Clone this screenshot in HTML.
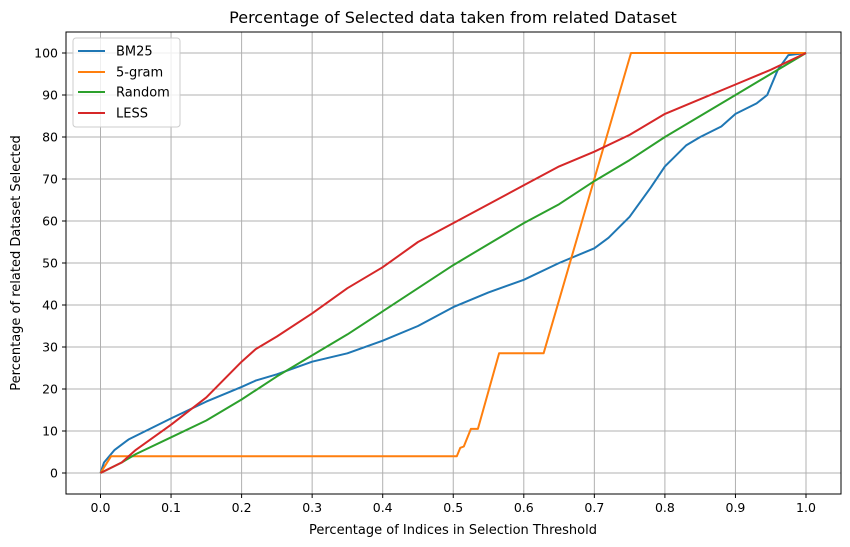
<!DOCTYPE html>
<html><head><meta charset="utf-8"><style>body{margin:0;background:#fff}svg{display:block;font-family:"DejaVu Sans","Liberation Sans",sans-serif}</style></head>
<body>
<svg id="chart" width="850" height="547" viewBox="0 0 850 547">
<rect width="850" height="547" fill="#fff"/>
<text x="453" y="23" text-anchor="middle" font-size="16">Percentage of Selected data taken from related Dataset</text>
<text x="453" y="534" text-anchor="middle" font-size="13">Percentage of Indices in Selection Threshold</text>
<text transform="translate(20,263) rotate(-90)" text-anchor="middle" font-size="13">Percentage of related Dataset Selected</text>
<g id="grid"></g><g id="series"></g><g id="ticks"></g>
<rect x="66" y="32" width="775" height="462" fill="none" stroke="#000" stroke-width="1"/>
<g>
<rect x="73" y="38" width="107" height="89" rx="3" fill="#fff" fill-opacity="0.8" stroke="#ccc"/>
<line x1="78" y1="51" x2="105" y2="51" stroke="#1f77b4" stroke-width="2"/><text x="116" y="55.5" font-size="13">BM25</text>
<line x1="78" y1="72" x2="105" y2="72" stroke="#ff7f0e" stroke-width="2"/><text x="116" y="76.5" font-size="13">5-gram</text>
<line x1="78" y1="92" x2="105" y2="92" stroke="#2ca02c" stroke-width="2"/><text x="116" y="96.5" font-size="13">Random</text>
<line x1="78" y1="113" x2="105" y2="113" stroke="#d62728" stroke-width="2"/><text x="116" y="117.5" font-size="13">LESS</text>
</g>
</svg>
<script>
const xTicks=[0,0.1,0.2,0.3,0.4,0.5,0.6,0.7,0.8,0.9,1.0];
const xTickLabels=["0.0","0.1","0.2","0.3","0.4","0.5","0.6","0.7","0.8","0.9","1.0"];
const yTicks=[0,10,20,30,40,50,60,70,80,90,100];
const bm25X=[0,0.005,0.02,0.04,0.07,0.1,0.15,0.2,0.22,0.25,0.3,0.35,0.4,0.45,0.5,0.55,0.6,0.65,0.7,0.72,0.75,0.78,0.8,0.83,0.85,0.88,0.9,0.93,0.945,0.96,0.975,1.0];
const bm25Y=[0,2.5,5.5,8,10.5,13,17,20.5,22,23.5,26.5,28.5,31.5,35,39.5,43,46,50,53.5,56,61,68,73,78,80,82.5,85.5,88,90,96,99.5,100];
const gramX=[0,0.015,0.505,0.51,0.515,0.525,0.535,0.565,0.628,0.752,1.0];
const gramY=[0,4,4,6,6.3,10.5,10.5,28.5,28.5,100,100];
const randX=[0,0.03,0.05,0.1,0.15,0.2,0.25,0.3,0.35,0.4,0.45,0.5,0.55,0.6,0.65,0.7,0.75,0.8,0.85,0.9,0.95,1.0];
const randY=[0,2.5,4.5,8.5,12.5,17.5,23,28,33,38.5,44,49.5,54.5,59.5,64,69.5,74.5,80,85,90,95,100];
const lessX=[0,0.03,0.05,0.1,0.15,0.2,0.22,0.25,0.3,0.35,0.4,0.45,0.5,0.55,0.6,0.65,0.7,0.75,0.8,0.85,0.9,0.95,1.0];
const lessY=[0,2.5,5.5,11.5,18,26.5,29.5,32.5,38,44,49,55,59.5,64,68.5,73,76.5,80.5,85.5,89,92.5,96,100];
const NS="http://www.w3.org/2000/svg";
const sx=v=>100.5+v*705.5, sy=v=>473-v*4.2;
function mk(t,a,p){const e=document.createElementNS(NS,t);for(const k in a)e.setAttribute(k,a[k]);p.appendChild(e);return e;}
const grid=document.getElementById('grid'),ticks=document.getElementById('ticks'),ser=document.getElementById('series');
xTicks.forEach((v,i)=>{
 const g=mk('line',{x1:sx(v),x2:sx(v),y1:32,y2:494,stroke:'#b0b0b0','stroke-width':1},grid);
 
 
 mk('line',{x1:sx(v),x2:sx(v),y1:494,y2:498,stroke:'#000'},ticks);
 const t=mk('text',{x:sx(v),y:512,'text-anchor':'middle','font-size':12.5},ticks);
 
 
 t.textContent=xTickLabels[i];
});
yTicks.forEach(v=>{
 const g=mk('line',{x1:66,x2:841,y1:sy(v),y2:sy(v),stroke:'#b0b0b0','stroke-width':1},grid);
 
 
 mk('line',{x1:62,x2:66,y1:sy(v),y2:sy(v),stroke:'#000'},ticks);
 const t=mk('text',{x:58,y:sy(v)+4.5,'text-anchor':'end','font-size':12.5},ticks);
 
 
 t.textContent=String(v);
});
function line(xs,ys,c,name){
 const d=xs.map((x,i)=>(i?'L':'M')+sx(x).toFixed(1)+','+sy(ys[i]).toFixed(1)).join('');
 const p=mk('path',{d:d,fill:'none',stroke:c,'stroke-width':2,'stroke-linejoin':'round'},ser);
 
 
}
line(bm25X,bm25Y,'#1f77b4','bm25-line');
line(gramX,gramY,'#ff7f0e','5gram-line');
line(randX,randY,'#2ca02c','random-line');
line(lessX,lessY,'#d62728','less-line');
</script>
</body></html>
